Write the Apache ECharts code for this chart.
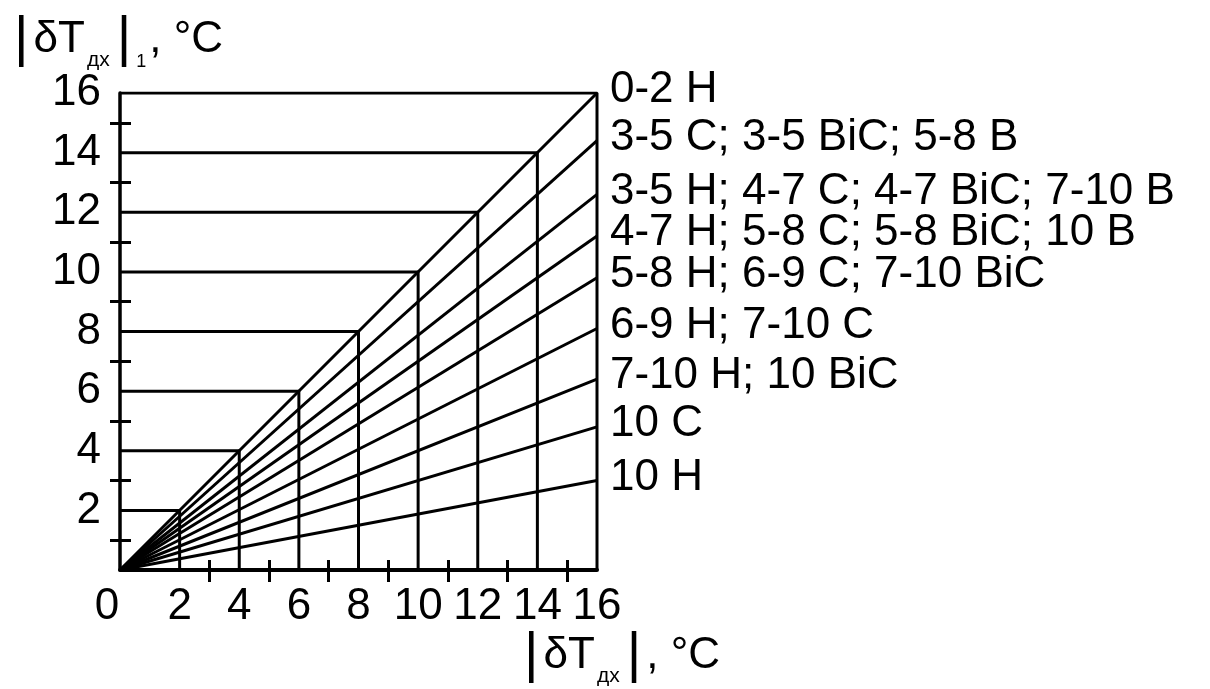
<!DOCTYPE html>
<html><head><meta charset="utf-8">
<script src="https://cdn.jsdelivr.net/npm/echarts@6/dist/echarts.min.js"></script>
<style>html,body{margin:0;padding:0;background:#fff}#c{width:1210px;height:689px}</style>
</head><body><div id="c"></div>
<script>
// ---- data ----
const seriesNames = [
  '0-2 H',
  '3-5 C; 3-5 BiC; 5-8 B',
  '3-5 H; 4-7 C; 4-7 BiC; 7-10 B',
  '4-7 H; 5-8 C; 5-8 BiC; 10 B',
  '5-8 H; 6-9 C; 7-10 BiC',
  '6-9 H; 7-10 C',
  '7-10 H; 10 BiC',
  '10 C',
  '10 H'
];
const rayStart = [0, 0];
const rayEndX = 16;
const rayEndValues = [16, 14.4, 12.6, 11.2, 9.8, 8.1, 6.4, 4.8, 3.0];
const guideValues = [2, 4, 6, 8, 10, 12, 14, 16];
const xLabelValues = [0, 2, 4, 6, 8, 10, 12, 14, 16];
const yLabelValues = [2, 4, 6, 8, 10, 12, 14, 16];
const xTickValues = [3, 5, 7, 9, 11, 13, 15];
const yTickValues = [1, 3, 5, 7, 9, 11, 13, 15];
const xAxisTitle = '{b||}{t|δT}{s|дх}{b||}{t|, °C}';
const yAxisTitle = '{b||}{t|δT}{s|дх}{b||}{n|1}{t|, °C}';

// ---- styles ----
const FONT = "'Liberation Sans', Arial, sans-serif";
const BLACK = '#000';
const FS = 44;
const titleRich = {
  b: {fontFamily: FONT, fontSize: 56, lineHeight: 62, color: BLACK, padding: [0, 5, 0, 5]},
  t: {fontFamily: FONT, fontSize: FS, lineHeight: 62, color: BLACK},
  s: {fontFamily: FONT, fontSize: 21, lineHeight: 28, color: BLACK, verticalAlign: 'bottom', padding: [0, 2, 0, 2]},
  n: {fontFamily: FONT, fontSize: 18, lineHeight: 28, color: BLACK, verticalAlign: 'bottom', padding: [0, 3, 0, 0]}
};

const series = [];
guideValues.forEach(v => {
  series.push({
    type: 'line', silent: true, symbol: 'none', animation: false,
    lineStyle: {color: BLACK, width: 3},
    data: [[0, v], [v, v], [v, 0]]
  });
});
seriesNames.forEach((name, i) => {
  series.push({
    type: 'line', name: name, silent: true, symbol: 'none', animation: false,
    lineStyle: {color: BLACK, width: 3},
    data: [rayStart, [rayEndX, rayEndValues[i]]],
    endLabel: {
      show: true, formatter: () => name, distance: 13,
      fontFamily: FONT, fontSize: FS, color: BLACK, offset: [0, -3]
    }
  });
});

const tickStyle = {color: BLACK, width: 3};
const option = {
  backgroundColor: '#fff',
  animation: false,
  grid: {left: 120, right: 613, top: 93, bottom: 119, outerBoundsMode: 'none', containLabel: false},
  xAxis: [{
    type: 'value', min: 0, max: 16, position: 'bottom',
    axisLine: {show: true, onZero: false, lineStyle: {color: BLACK, width: 4}},
    axisTick: {show: true, customValues: xTickValues, length: 12, lineStyle: tickStyle},
    axisLabel: {
      customValues: xLabelValues, fontFamily: FONT, fontSize: FS, color: BLACK, margin: 15,
      formatter: v => v === 0 ? '{z|0}' : String(v),
      rich: {z: {fontFamily: FONT, fontSize: FS, color: BLACK, padding: [0, 26, 0, 0]}}
    },
    splitLine: {show: false},
    name: xAxisTitle, nameLocation: 'end', nameGap: 123, nameMoveOverlap: false,
    nameTextStyle: {align: 'right', verticalAlign: 'middle', padding: [172, 0, 0, 0], rich: titleRich}
  }, {
    type: 'value', min: 0, max: 16, position: 'bottom',
    axisLine: {show: false},
    axisTick: {show: true, inside: true, customValues: xTickValues, length: 10, lineStyle: tickStyle},
    axisLabel: {show: false},
    splitLine: {show: false}
  }],
  yAxis: [{
    type: 'value', min: 0, max: 16, position: 'left',
    axisLine: {show: true, onZero: false, lineStyle: {color: BLACK, width: 3.5}},
    axisTick: {show: true, customValues: yTickValues, length: 10, lineStyle: tickStyle},
    axisLabel: {customValues: yLabelValues, fontFamily: FONT, fontSize: FS, color: BLACK, margin: 19},
    splitLine: {show: false},
    name: yAxisTitle, nameLocation: 'end', nameGap: 22, nameMoveOverlap: false,
    nameTextStyle: {align: 'center', verticalAlign: 'bottom', padding: [0, 8, 0, 0], rich: titleRich}
  }, {
    type: 'value', min: 0, max: 16, position: 'left',
    axisLine: {show: false},
    axisTick: {show: true, inside: true, customValues: yTickValues, length: 11, lineStyle: tickStyle},
    axisLabel: {show: false},
    splitLine: {show: false}
  }],
  series: series
};
const chart = echarts.init(document.getElementById('c'), null, {renderer: 'canvas'});
chart.setOption(option);
</script>
</body></html>
